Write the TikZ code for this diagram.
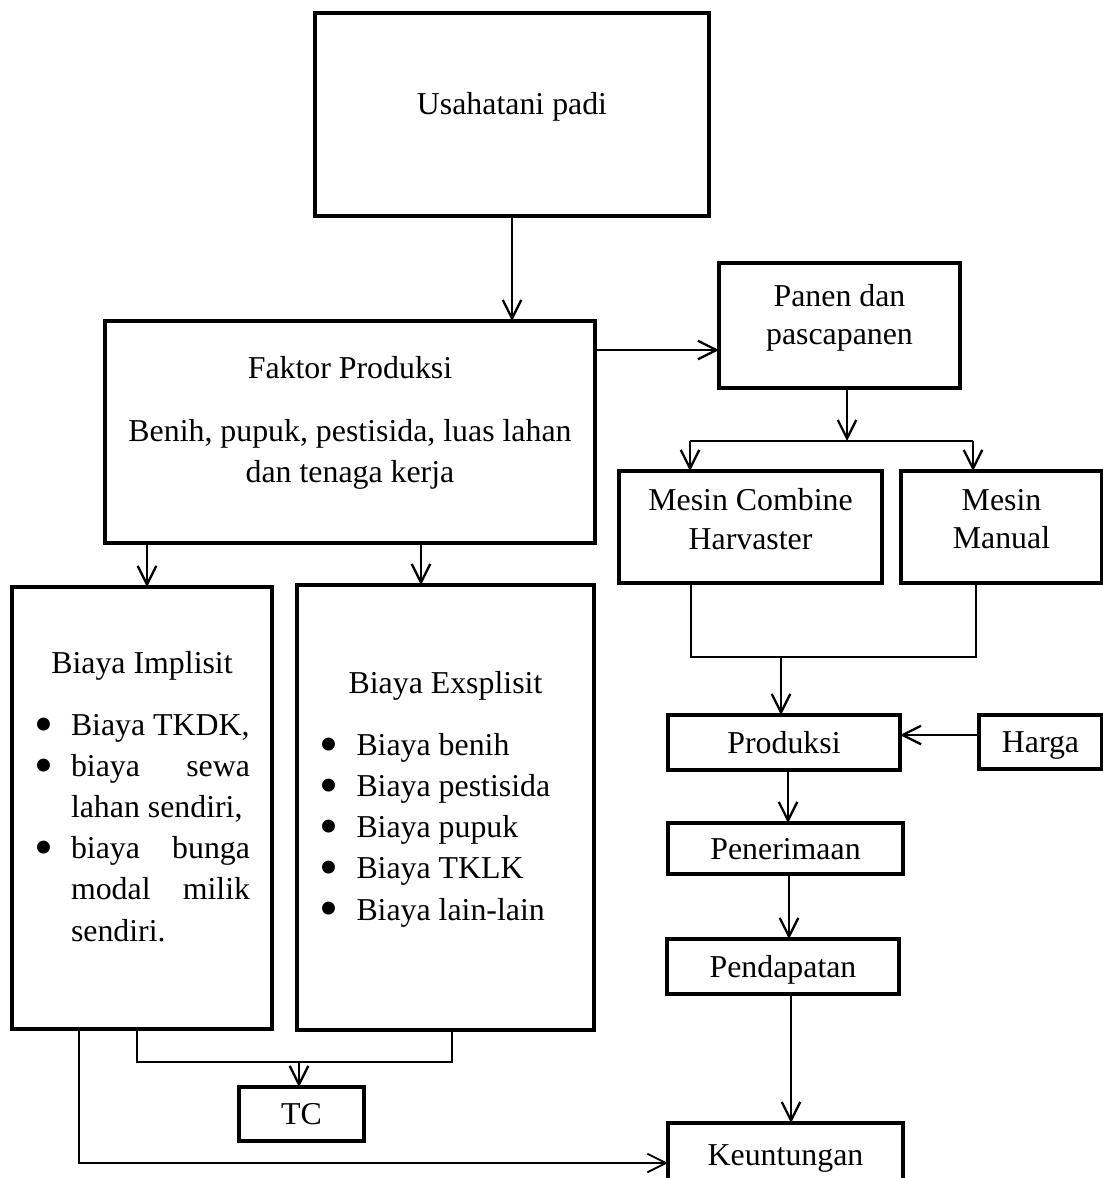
\documentclass[tikz,border=0pt]{standalone}
\usepackage{fontspec}
\setmainfont{Liberation Serif}
\usetikzlibrary{arrows.meta,positioning}
\newlength\pxl
\setlength\pxl{0.01325cm}
\newcommand\titik{\raisebox{-2.6pt}[5pt][0pt]{\scalebox{1.7}{\textbullet}}}
\newcommand\butir[2]{\makebox[#1\pxl][l]{\makebox[37\pxl][l]{\titik}#2}}
\newcommand\sambung[2]{\makebox[#1\pxl][l]{\hspace*{37\pxl}#2}}
\begin{document}
\begin{tikzpicture}[x=0.01325cm,y=-0.01325cm,
  kotak/.style={draw,rectangle,line width=1.2pt,align=center,inner sep=2pt,outer sep=0pt,
    font=\fontsize{12}{15.5}\selectfont},
  rapat/.style={font=\fontsize{12}{14.5}\selectfont},
  kecil/.style={kotak,text depth=0pt},
  panah/.style={line width=0.85pt,-{Straight Barb[length=7pt,width=7pt]}},
  garis/.style={line width=0.5pt}]

  \useasboundingbox (0,0) rectangle (1103,1178);

  \node[kotak, minimum width=394*\pxl, minimum height=203*\pxl, text depth=8.7pt] (usaha) at (512,114.5) {Usahatani padi};
  \node[kotak, minimum width=490*\pxl, minimum height=222*\pxl, text depth=9.4pt] (faktor) at (350,432)
    {Faktor Produksi\\[8pt] Benih, pupuk, pestisida, luas lahan\\ dan tenaga kerja};
  \node[kotak, rapat, minimum width=241*\pxl, minimum height=125*\pxl, text depth=8.3pt] (panen) at (839.5,325.5) {Panen dan\\ pascapanen};
  \node[kotak, rapat, minimum width=263*\pxl, minimum height=112*\pxl, text depth=6pt] (combine) at (750.5,527) {Mesin Combine\\ Harvaster};
  \node[kotak, rapat, minimum width=201*\pxl, minimum height=112*\pxl, text depth=6pt] (manual) at (1001.5,527) {Mesin\\ Manual};
  \node[kecil, minimum width=232*\pxl, minimum height=55*\pxl] (produksi) at (784,742.5) {Produksi};
  \node[kecil, minimum width=123*\pxl, minimum height=54*\pxl] (harga) at (1040.5,742) {Harga};
  \node[kecil, minimum width=235*\pxl, minimum height=51*\pxl] (terima) at (785.5,848.5) {Penerimaan};
  \node[kecil, minimum width=232*\pxl, minimum height=55*\pxl] (dapat) at (783,966.5) {Pendapatan};
  \node[kecil, minimum width=235*\pxl, minimum height=64*\pxl] (untung) at (785.5,1155) {Keuntungan};
  \node[kotak, minimum width=260*\pxl, minimum height=442*\pxl, text depth=9pt] (implisit) at (142,808)
    {Biaya Implisit\\[8pt]
     \butir{216}{Biaya TKDK,}\\
     \butir{216}{\makebox[179\pxl][s]{biaya sewa}}\\
     \sambung{216}{lahan sendiri,}\\
     \butir{216}{\makebox[179\pxl][s]{biaya bunga}}\\
     \sambung{216}{\makebox[179\pxl][s]{modal milik}}\\
     \sambung{216}{sendiri.}};
  \node[kotak, minimum width=297*\pxl, minimum height=445*\pxl, text depth=9pt] (eksplisit) at (445.5,807.5)
    {Biaya Exsplisit\\[8pt]
     \butir{252}{Biaya benih}\\
     \butir{252}{Biaya pestisida}\\
     \butir{252}{Biaya pupuk}\\
     \butir{252}{Biaya TKLK}\\
     \butir{252}{Biaya lain-lain}};
  \node[kecil, minimum width=125*\pxl, minimum height=54*\pxl] (tc) at (301.5,1114) {TC};

  \coordinate (cabang) at (847,441);
  \coordinate (cabangkiri) at (690,441);
  \coordinate (cabangkanan) at (973,441);
  \coordinate (gabung) at (781,657);
  \coordinate (total) at (299,1062);

  \draw[panah] (usaha.south) -- (usaha.south |- faktor.north);
  \draw[panah] (faktor.east |- 0,350) -- (panen.west |- 0,350);
  \draw[panah] (panen.south -| cabang) -- (cabang);
  \draw[garis] (cabangkiri) -- (cabangkanan);
  \draw[panah] (cabangkiri) -- (cabangkiri |- combine.north);
  \draw[panah] (cabangkanan) -- (cabangkanan |- manual.north);
  \draw[garis] (combine.south -| 691,0) |- (gabung) -| (manual.south -| 976,0);
  \draw[panah] (gabung) -- (gabung |- produksi.north);
  \draw[panah] (harga.west |- 0,735) -- (produksi.east |- 0,735);
  \draw[panah] (produksi.south -| 788,0) -- (terima.north -| 788,0);
  \draw[panah] (terima.south -| 789,0) -- (dapat.north -| 789,0);
  \draw[panah] (dapat.south -| 791,0) -- (untung.north -| 791,0);

  \draw[panah] (faktor.south -| 147,0) -- (implisit.north -| 147,0);
  \draw[panah] (faktor.south -| 421,0) -- (eksplisit.north -| 421,0);
  \draw[garis] (implisit.south -| 137,0) |- (total) -| (eksplisit.south -| 452,0);
  \draw[panah] (total) -- (total |- tc.north);
  \draw[panah, line width=0.7pt] (implisit.south -| 79,0) |- (untung.west |- 0,1163);
\end{tikzpicture}
\end{document}
